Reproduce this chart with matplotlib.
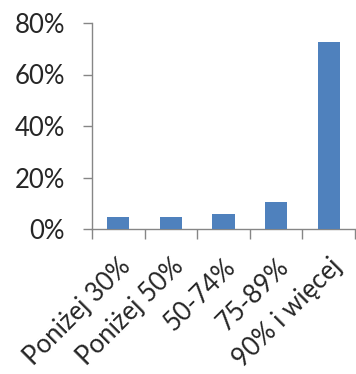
import matplotlib.pyplot as plt
from matplotlib.ticker import FuncFormatter
import numpy as np

# dane
categories = ['Poniżej 30%', 'Poniżej 50%', '50-74%', '75-89%', '90% i więcej']
shares = [0.048, 0.048, 0.057, 0.104, 0.725]

axis_col = '#868686'
plt.rcParams['font.family'] = ['Lato', 'DejaVu Sans']

fig = plt.figure(figsize=(3.56, 3.74), dpi=100)
ax = fig.add_axes([92 / 356, 145 / 374, 263 / 356, 206 / 374])

x = np.arange(len(categories))
ax.bar(x, shares, width=0.42, color='#4F81BD', zorder=3)

ax.set_xlim(-0.5, len(categories) - 0.5)
ax.set_ylim(0, 0.8)
ax.set_yticks([0, 0.2, 0.4, 0.6, 0.8])
ax.yaxis.set_major_formatter(FuncFormatter(lambda v, p: f'{v * 100:.0f}%'))

# etykiety kategorii na środku, kreski na granicach
ax.set_xticks(x)
ax.set_xticklabels(categories, rotation=45, ha='right', va='top',
                   rotation_mode='anchor')
ax.set_xticks(np.arange(len(categories) + 1) - 0.5, minor=True)
ax.tick_params(axis='x', which='major', length=0, pad=18, labelsize=18.5,
               colors='#262626')
ax.tick_params(axis='x', which='minor', length=7, width=1, color=axis_col,
               direction='out')
ax.tick_params(axis='y', length=6.5, width=1, color=axis_col, labelsize=18.5,
               labelcolor='#262626', pad=13)

for s in ['top', 'right']:
    ax.spines[s].set_visible(False)
for s in ['left', 'bottom']:
    ax.spines[s].set_color(axis_col)
    ax.spines[s].set_linewidth(1)

fig.savefig('out.png', dpi=100)
